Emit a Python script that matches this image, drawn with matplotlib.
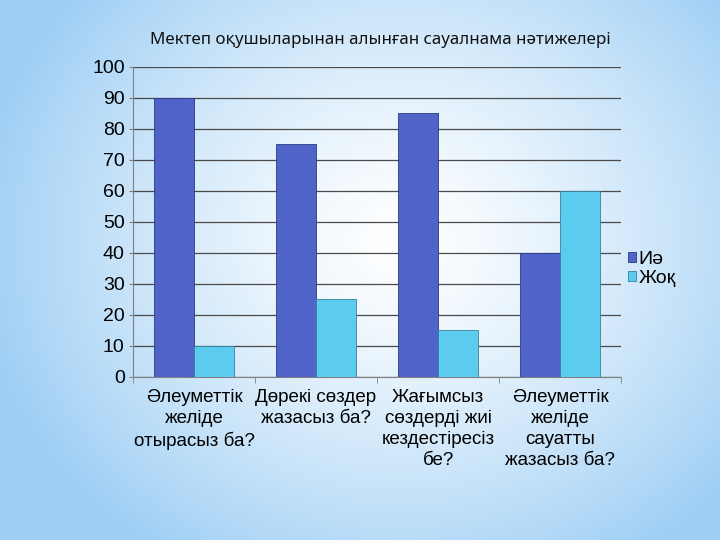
import matplotlib.pyplot as plt
import numpy as np

categories = ['Әлеуметтік\nжеліде\nотырасыз ба?', 'Дөрекі сөздер\nжазасыз ба?',
              'Жағымсыз\nсөздерді жиі\nкездестіресіз\nбе?', 'Әлеуметтік\nжеліде\nсауатты\nжазасыз ба?']
yes_vals = [90, 75, 85, 40]
no_vals = [10, 25, 15, 60]
series_names = ['Иә', 'Жоқ']
title = 'Мектеп оқушыларынан алынған сауалнама нәтижелері'

plt.rcParams['font.family'] = ['Liberation Sans', 'DejaVu Sans']

fig = plt.figure(figsize=(7.2, 5.4), dpi=100)

# radial gradient background
bg = fig.add_axes([0, 0, 1, 1], zorder=-10)
yy, xx = np.mgrid[0:540, 0:720]
r = np.sqrt(((xx - 400) / 430.0) ** 2 + ((yy - 240) / 380.0) ** 2)
r = np.clip(r, 0, 1)
c0 = np.array([1.0, 1.0, 1.0])
c1 = np.array([0.62, 0.81, 0.96])
img = c0 + (c1 - c0) * (r[..., None] ** 1.3)
bg.imshow(img, aspect='auto', extent=[0, 1, 0, 1], origin='upper')
bg.axis('off')

ax = fig.add_axes([0.1847, 0.302, 0.678, 0.574])
ax.patch.set_alpha(0)
x = np.arange(len(categories))
w = 0.33
ax.bar(x - w / 2, yes_vals, w, color='#4f63c9', edgecolor='#2c3a80', linewidth=0.6,
       label=series_names[0], zorder=3)
ax.bar(x + w / 2, no_vals, w, color='#5bcbef', edgecolor='#3a7f9a', linewidth=0.6,
       label=series_names[1], zorder=3)

ax.set_xlim(-0.5, len(categories) - 0.5)
ax.set_ylim(0, 100)
ax.set_yticks(range(0, 101, 10))
ax.yaxis.grid(True, color='#4a4a4a', linewidth=0.9, zorder=0)
ax.set_axisbelow(True)
for s in ['top', 'right']:
    ax.spines[s].set_visible(False)
ax.spines['left'].set_color('#808080')
ax.spines['bottom'].set_color('#808080')
ax.tick_params(axis='y', labelsize=14, length=3, color='#808080', pad=3)
ax.set_xticks(x)
ax.set_xticklabels(categories, fontsize=13.5, linespacing=1.3)
ax.set_xticks(np.arange(-0.5, len(categories)), minor=True)
ax.tick_params(axis='x', which='major', length=0, pad=9)
ax.tick_params(axis='x', which='minor', length=4, color='#808080')

ax.legend(loc='upper left', bbox_to_anchor=(0.99, 0.445), frameon=False, fontsize=14,
          handlelength=0.4, handleheight=0.4, handletextpad=0.15, labelspacing=0.1,
          borderaxespad=0.2)

fig.text(0.528, 0.926, title, ha='center', va='center', fontsize=12.2,
         family=['Noto Sans', 'DejaVu Sans'], color='#111111')

fig.savefig('out.png', dpi=100)
